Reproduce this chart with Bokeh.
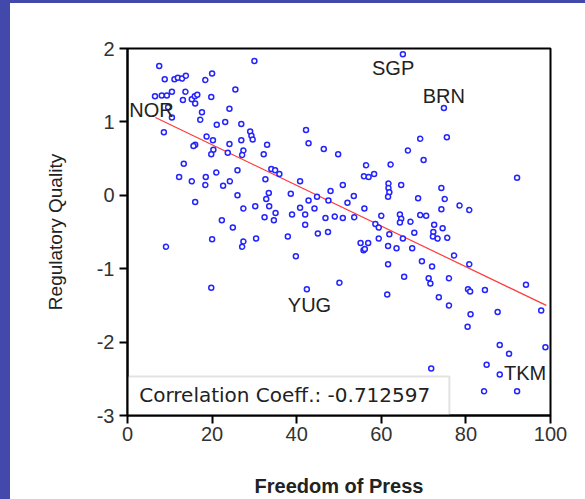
from bokeh.plotting import figure
from bokeh.models import BoxAnnotation, Label, FixedTicker, Range1d, ColumnDataSource
from bokeh.embed import file_html
from bokeh.resources import INLINE
from bokeh.core.properties import value

# ---- data ----
FREEDOM_OF_PRESS = [
    7.5, 30.0, 8.8, 11.1, 11.9, 12.9, 13.8, 18.4, 20.0,
    6.5, 8.1, 9.3, 10.5, 13.7, 13.1, 15.2, 15.9, 16.5, 16.0, 19.8, 25.5,
    9.6, 10.5, 8.6, 17.6, 17.2, 24.1, 21.1, 23.1, 26.9,
    29.0, 29.3, 29.6, 18.7, 20.2, 16.0, 15.6, 20.3, 19.8, 24.1, 26.9, 23.7, 27.4, 27.1, 33.0, 32.2, 42.2, 42.8, 46.4, 49.8,
    13.3, 12.2, 15.2, 18.5, 18.4, 21.0, 22.6, 24.2, 26.0, 32.6, 34.0, 34.9, 35.9, 40.8,
    16.0, 26.0, 33.4, 32.8, 33.5, 27.4, 30.2, 38.6, 42.8, 44.8, 48.0, 47.5, 40.8, 44.2, 35.0, 32.4, 34.6, 38.9, 42.0, 46.8, 49.0, 22.3, 24.9, 42.0,
    65.1, 74.8, 69.2, 75.5, 66.3, 70.0, 56.4, 62.2, 55.9, 57.0, 58.3, 92.1, 50.9, 61.7, 61.7, 61.9, 61.6, 64.7, 74.2, 68.7, 75.0, 53.5, 52.0, 56.0,
    74.2, 78.5, 80.8, 50.9, 53.6, 60.0, 64.4, 64.7, 64.4, 66.9, 69.2, 70.6, 58.6, 59.4, 72.5, 74.5,
    9.1, 20.0, 27.4, 27.1, 30.4, 37.9, 45.0, 47.4, 39.8, 19.8, 42.4, 50.1,
    61.9, 67.8, 72.3, 72.2, 73.3, 75.6, 65.1, 59.4, 55.1, 56.9, 55.8, 56.1, 61.6, 63.6, 67.3, 77.2, 80.8, 69.6, 72.0, 61.6,
    65.4, 71.2, 71.6, 76.0, 61.4, 73.6, 76.0, 80.5, 81.0, 84.5, 94.2, 87.5, 97.8, 81.1, 80.4, 88.0, 90.2, 98.8, 84.9, 88.0, 71.8, 84.3, 92.1,
]
REGULATORY_QUALITY = [
    1.76, 1.83, 1.58, 1.58, 1.60, 1.59, 1.63, 1.57, 1.66,
    1.35, 1.36, 1.36, 1.41, 1.41, 1.30, 1.31, 1.35, 1.37, 1.25, 1.34, 1.44,
    1.20, 1.06, 0.86, 1.13, 1.03, 1.18, 0.96, 1.00, 0.97,
    0.87, 0.81, 0.76, 0.80, 0.75, 0.69, 0.67, 0.62, 0.56, 0.70, 0.75, 0.58, 0.61, 0.55, 0.69, 0.56, 0.89, 0.71, 0.63, 0.56,
    0.43, 0.25, 0.19, 0.25, 0.14, 0.31, 0.13, 0.19, 0.34, 0.22, 0.36, 0.34, 0.29, 0.19,
    -0.09, 0.00, 0.03, -0.05, -0.15, -0.18, -0.15, 0.02, -0.07, -0.02, 0.06, -0.07, -0.17, -0.18, -0.24, -0.30, -0.34, -0.26, -0.26, -0.31, -0.29, -0.34, -0.44, -0.40,
    1.92, 1.19, 0.77, 0.79, 0.61, 0.48, 0.41, 0.42, 0.26, 0.25, 0.29, 0.24, 0.14, 0.16, 0.10, 0.04, -0.02, 0.14, 0.10, -0.04, -0.05, -0.01, -0.10, -0.18,
    -0.19, -0.14, -0.20, -0.31, -0.30, -0.28, -0.26, -0.32, -0.37, -0.36, -0.27, -0.28, -0.39, -0.44, -0.40, -0.45,
    -0.70, -0.60, -0.63, -0.70, -0.59, -0.56, -0.52, -0.50, -0.83, -1.26, -1.28, -1.19,
    -0.53, -0.51, -0.50, -0.56, -0.59, -0.58, -0.59, -0.59, -0.65, -0.65, -0.75, -0.73, -0.69, -0.72, -0.72, -0.82, -0.94, -0.90, -0.97, -0.94,
    -1.11, -1.13, -1.20, -1.13, -1.35, -1.39, -1.50, -1.28, -1.31, -1.29, -1.22, -1.59, -1.57, -1.62, -1.79, -2.04, -2.16, -2.07, -2.31, -2.44, -2.36, -2.67, -2.67,
]
FIT_X = [6.6, 99.0]
FIT_Y = [1.06, -1.50]
LABEL_TEXT = ["NOR", "SGP", "BRN", "YUG", "TKM"]
LABEL_X = [0.4, 57.8, 69.8, 37.9, 89.0]
LABEL_Y = [1.165, 1.735, 1.355, -1.495, -2.415]
CORR_TEXT = "Correlation Coeff.: -0.712597"
X_TICKS = [0, 20, 40, 60, 80, 100]
Y_TICKS = [-3, -2, -1, 0, 1, 2]
X_TITLE = "Freedom of Press"
Y_TITLE = "Regulatory Quality"

FONT = "Liberation Sans"
TXT = "#222222"

p = figure(width=585, height=499, x_range=Range1d(0, 100), y_range=Range1d(-3, 2),
           output_backend="svg", toolbar_location=None,
           min_border_left=127, min_border_top=48, min_border_right=35, min_border_bottom=84)
p.border_fill_color = None
p.background_fill_color = "white"
p.outline_line_color = "black"
p.outline_line_width = 2
p.grid.visible = False

for ax in (p.xaxis, p.yaxis):
    ax.axis_line_color = "black"
    ax.axis_line_width = 2
    ax.major_tick_line_color = "black"
    ax.major_tick_line_width = 2
    ax.major_tick_in = 0
    ax.major_tick_out = 8
    ax.minor_tick_line_color = None
    ax.major_label_text_font = FONT
    ax.major_label_text_font_size = "20px"
    ax.major_label_text_color = "#333333"
    ax.axis_label_text_font = FONT
    ax.axis_label_text_color = TXT

p.xaxis.ticker = FixedTicker(ticks=X_TICKS)
p.yaxis.ticker = FixedTicker(ticks=Y_TICKS)
p.yaxis.major_label_overrides = {t: str(t) for t in Y_TICKS}
p.xaxis.major_label_standoff = 3
p.yaxis.major_label_standoff = 5

p.yaxis.axis_label = Y_TITLE
p.yaxis.axis_label_text_font_size = "19px"
p.yaxis.axis_label_text_font_style = "normal"
p.yaxis.axis_label_standoff = 28

p.xaxis.axis_label = X_TITLE
p.xaxis.axis_label_text_font_size = "20px"
p.xaxis.axis_label_text_font_style = "bold"
p.xaxis.axis_label_standoff = 31

box = BoxAnnotation(left=0, right=76.1, bottom=-3, top=-2.47, fill_color="white", fill_alpha=1,
                    line_color="#a0a0a0", line_width=2, level="underlay")
p.add_layout(box)

p.line(FIT_X, FIT_Y, line_color="#ff3b3b", line_width=1.2)
p.scatter(FREEDOM_OF_PRESS, REGULATORY_QUALITY, marker="circle", size=5,
          line_color="#2424ff", line_width=1.5, fill_color="white")

lab_src = ColumnDataSource(dict(x=LABEL_X, y=LABEL_Y, t=LABEL_TEXT))
p.text(x="x", y="y", text="t", source=lab_src, text_font=value(FONT), text_font_size="20px",
       text_color=TXT, text_align="left", text_baseline="alphabetic")

p.add_layout(Label(x=2.77, y=-2.715, text=CORR_TEXT, text_font="DejaVu Sans",
                   text_font_size="20px", text_color=TXT, text_align="left", text_baseline="alphabetic"))

template = ("{% block preamble %}<style>body{background:"
            "linear-gradient(to right,#4349aa 10px,rgba(0,0,0,0) 10px),"
            "linear-gradient(to bottom,#4349aa 3px,#ffffff 3px);}</style>{% endblock %}")
open("out.html", "w").write(file_html(p, INLINE, template=template))
